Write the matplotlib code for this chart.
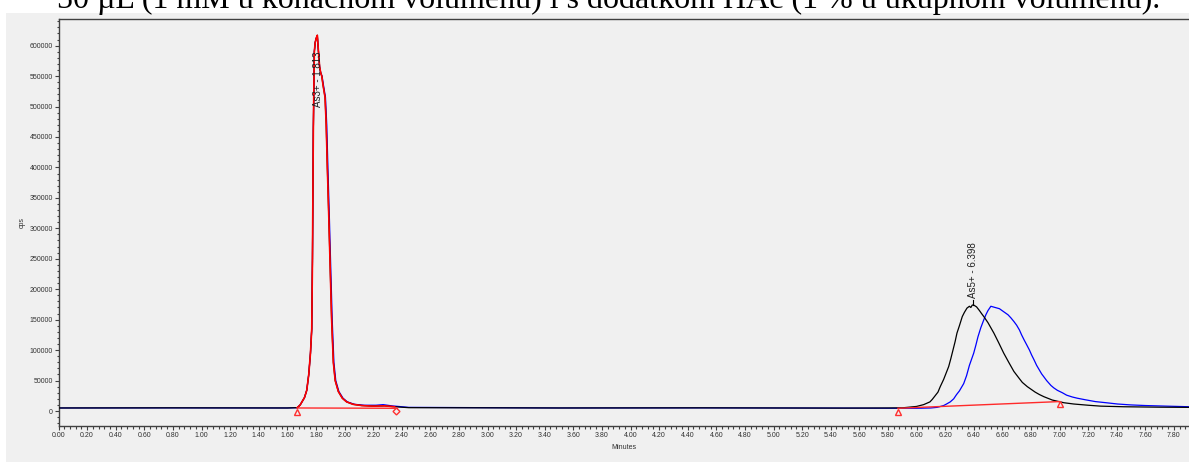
import matplotlib
matplotlib.use("Agg")
import matplotlib.pyplot as plt
from matplotlib.patches import Rectangle
from matplotlib.ticker import MultipleLocator, FormatStrFormatter


# ── Data ──────────────────────────────────────────────────────────────
TITLE = "50 µL (1 mM u konačnom volumenu) i s dodatkom HAc (1 % u ukupnom volumenu)."

# black trace (sample run 1), minutes / cps
black_t = [0.00, 0.80, 1.60, 1.67, 1.69, 1.72, 1.736, 1.75, 1.762, 1.771,
           1.776, 1.782, 1.789, 1.795, 1.802, 1.810, 1.818, 1.826, 1.834,
           1.841, 1.850, 1.864, 1.872, 1.880, 1.890, 1.899, 1.910, 1.922,
           1.935, 1.957, 1.985, 2.015, 2.06, 2.12, 2.20, 2.28, 2.35, 2.45,
           3.50, 4.50, 5.50,
           5.80, 5.90, 6.00, 6.05, 6.094, 6.11, 6.13, 6.15, 6.166, 6.19,
           6.20, 6.225, 6.24, 6.255, 6.27, 6.283, 6.30, 6.32, 6.335, 6.353,
           6.37, 6.38, 6.39, 6.40, 6.42, 6.44, 6.455, 6.471, 6.50, 6.541,
           6.575, 6.61, 6.645, 6.681, 6.72, 6.74, 6.775, 6.83, 6.86, 6.891,
           6.95, 7.031, 7.10, 7.20, 7.289, 7.45, 7.70, 7.91]
black_cps = [5000, 5200, 5000, 5500, 10000, 22000, 34000, 60000, 95000, 135000,
             250000, 460000, 590000, 605000, 612000, 617000, 590000, 565000, 555000,
             550000, 535000, 515000, 470000, 400000, 320000, 243000, 150000, 80000,
             50000, 32000, 21000, 15000, 11000, 9000, 8000, 8500, 7000, 5500,
             5000, 5200, 4800,
             5000, 5200, 7500, 10500, 15000, 19000, 25000, 31000, 40000, 52000,
             58000, 73000, 86000, 100000, 114000, 128000, 140000, 155000, 162000, 169000,
             172000, 170000, 174000, 174000, 171000, 165000, 160000, 155000, 145000, 128000,
             112000, 95000, 80000, 65000, 53000, 47000, 40000, 31000, 27000, 23500,
             18000, 13600, 11500, 9500, 8000, 7000, 6300, 6000]

# blue trace (sample run 2)
blue_t = [0.00, 0.80, 1.60, 1.67, 1.69, 1.72, 1.736, 1.75, 1.762, 1.771,
          1.776, 1.782, 1.789, 1.795, 1.802, 1.810, 1.818, 1.826, 1.834,
          1.843, 1.853, 1.867, 1.876, 1.884, 1.894, 1.903, 1.914, 1.926,
          1.939, 1.961, 1.990, 2.020, 2.07, 2.14, 2.22, 2.27, 2.33, 2.45,
          3.50, 4.50, 5.50,
          5.90, 6.00, 6.10, 6.143, 6.16, 6.19, 6.21, 6.236, 6.26, 6.28,
          6.30, 6.33, 6.35, 6.37, 6.385, 6.40, 6.415, 6.43, 6.45, 6.471,
          6.485, 6.50, 6.52, 6.535, 6.55, 6.58, 6.61, 6.64, 6.66, 6.681,
          6.70, 6.72, 6.735, 6.752, 6.77, 6.79, 6.805, 6.822, 6.84, 6.86,
          6.875, 6.891, 6.91, 6.94, 6.96, 6.985, 7.02, 7.05, 7.09, 7.125,
          7.18, 7.25, 7.33, 7.406, 7.50, 7.60, 7.75, 7.91]
blue_cps = [5000, 5200, 5000, 5500, 10000, 22000, 34000, 60000, 95000, 135000,
            250000, 460000, 590000, 605000, 612000, 615000, 590000, 565000, 555000,
            550000, 535000, 515000, 470000, 400000, 320000, 243000, 150000, 80000,
            50000, 32000, 21000, 15000, 11000, 9500, 9500, 10500, 8500, 6000,
            5000, 5200, 4800,
            4500, 4500, 5000, 6000, 7000, 9000, 11500, 15000, 20000, 27000,
            33000, 45000, 58000, 75000, 85000, 95000, 108000, 122000, 137000, 150000,
            158000, 165000, 172000, 171000, 170000, 168000, 163000, 158000, 153000, 147000,
            141000, 133000, 125000, 117000, 109000, 100000, 92000, 84000, 75000, 67000,
            61000, 56000, 50000, 42000, 38000, 34000, 30000, 26000, 23000, 21000,
            18500, 15500, 13500, 11500, 10000, 9000, 8000, 7000]

# integration window of the first peak (red overlay)
red_start, red_end = 1.66, 2.38

# integration baselines
base1_t = [1.67, 2.37]
base1_cps = [5000, 4500]
base2_t = [5.87, 7.00]
base2_cps = [4500, 15500]

# start / end markers of the integrations
tri_t = [1.67, 5.87, 7.00]
tri_cps = [-1000, -1000, 11000]
dia_t = [2.36]
dia_cps = [0]

# peak labels
label_text = ["As3+ - 1.813", "As5+ - 6.398"]
label_t = [1.813, 6.398]
label_cps = [499000, 185500]
apex_cps = [617000, 174000]


# ── Figure ────────────────────────────────────────────────────────────
W, H = 1189, 462
fig = plt.figure(figsize=(W / 100, H / 100), dpi=100)
fig.patch.set_facecolor("white")

# grey panel behind the chart
fig.patches.append(Rectangle((6 / W, 0), 1 - 6 / W, (H - 13) / H,
                             transform=fig.transFigure, facecolor="#f0f0f0",
                             edgecolor="none", zorder=-5))

# clipped caption above the chart
fig.text(57 / W, 1 - 8 / H, TITLE, family="Liberation Serif", fontsize=23,
         va="baseline", ha="left", color="black")

ax = fig.add_axes([58.5 / W, (H - 426) / H, 1 - 58.5 / W, (426 - 19) / H])
ax.set_facecolor("#f0f0f0")

ax.plot(black_t, black_cps, color="black", lw=0.9, zorder=3)
ax.plot(blue_t, blue_cps, color="#0000ff", lw=0.9, zorder=2)

red_t = [t for t in black_t if red_start <= t <= red_end]
red_cps = [v for t, v in zip(black_t, black_cps) if red_start <= t <= red_end]
ax.plot(red_t, red_cps, color="#ff0000", lw=1.2, zorder=4)

ax.plot(base1_t, base1_cps, color="#ff2a2a", lw=1.0, zorder=5)
ax.plot(base2_t, base2_cps, color="#ff2a2a", lw=1.0, zorder=5)
ax.plot(tri_t, tri_cps, ls="none", marker="^", ms=5, mfc="none",
        mec="#ff3030", mew=1.0, zorder=6)
ax.plot(dia_t, dia_cps, ls="none", marker="D", ms=3.5, mfc="none",
        mec="#ff3030", mew=1.0, zorder=6)

for txt, t, y, top in zip(label_text, label_t, label_cps, apex_cps):
    if y > top:  # tick from apex up to the label
        ax.plot([t, t], [top, y - 2500], color="black", lw=0.8, zorder=6)
    ax.text(t, y, txt, rotation=90, ha="center", va="bottom", fontsize=7,
            family="Liberation Sans", color="#202020", zorder=7)

# ── Axes styling ──────────────────────────────────────────────────────
ax.set_xlim(0, (W - 58.5) / 143)
ax.set_ylim(-24600, 643700)

ax.xaxis.set_major_locator(MultipleLocator(0.2))
ax.xaxis.set_minor_locator(MultipleLocator(0.04))
ax.xaxis.set_major_formatter(FormatStrFormatter("%.2f"))
ax.yaxis.set_major_locator(MultipleLocator(50000))
ax.yaxis.set_minor_locator(MultipleLocator(10000))
ax.yaxis.set_major_formatter(FormatStrFormatter("%d"))

for spine in ["left", "bottom", "top"]:
    ax.spines[spine].set_color("#404040")
    ax.spines[spine].set_linewidth(1.0)
ax.spines["right"].set_visible(False)

ax.tick_params(which="major", direction="out", length=3, width=0.8,
               color="#404040", labelsize=5, labelcolor="#303030", pad=1)
ax.tick_params(which="minor", direction="out", length=1.8, width=0.8,
               color="#404040")
for lab in ax.get_xticklabels() + ax.get_yticklabels():
    lab.set_family("Liberation Sans")

ax.set_xlabel("Minutes", fontsize=5, family="Liberation Sans", labelpad=4,
              color="#303030")
fig.text(22 / W, 1 - 222 / H, "cps", rotation=90, fontsize=5,
         family="Liberation Sans", color="#303030", ha="center", va="center")

fig.savefig("out.png", dpi=100)
